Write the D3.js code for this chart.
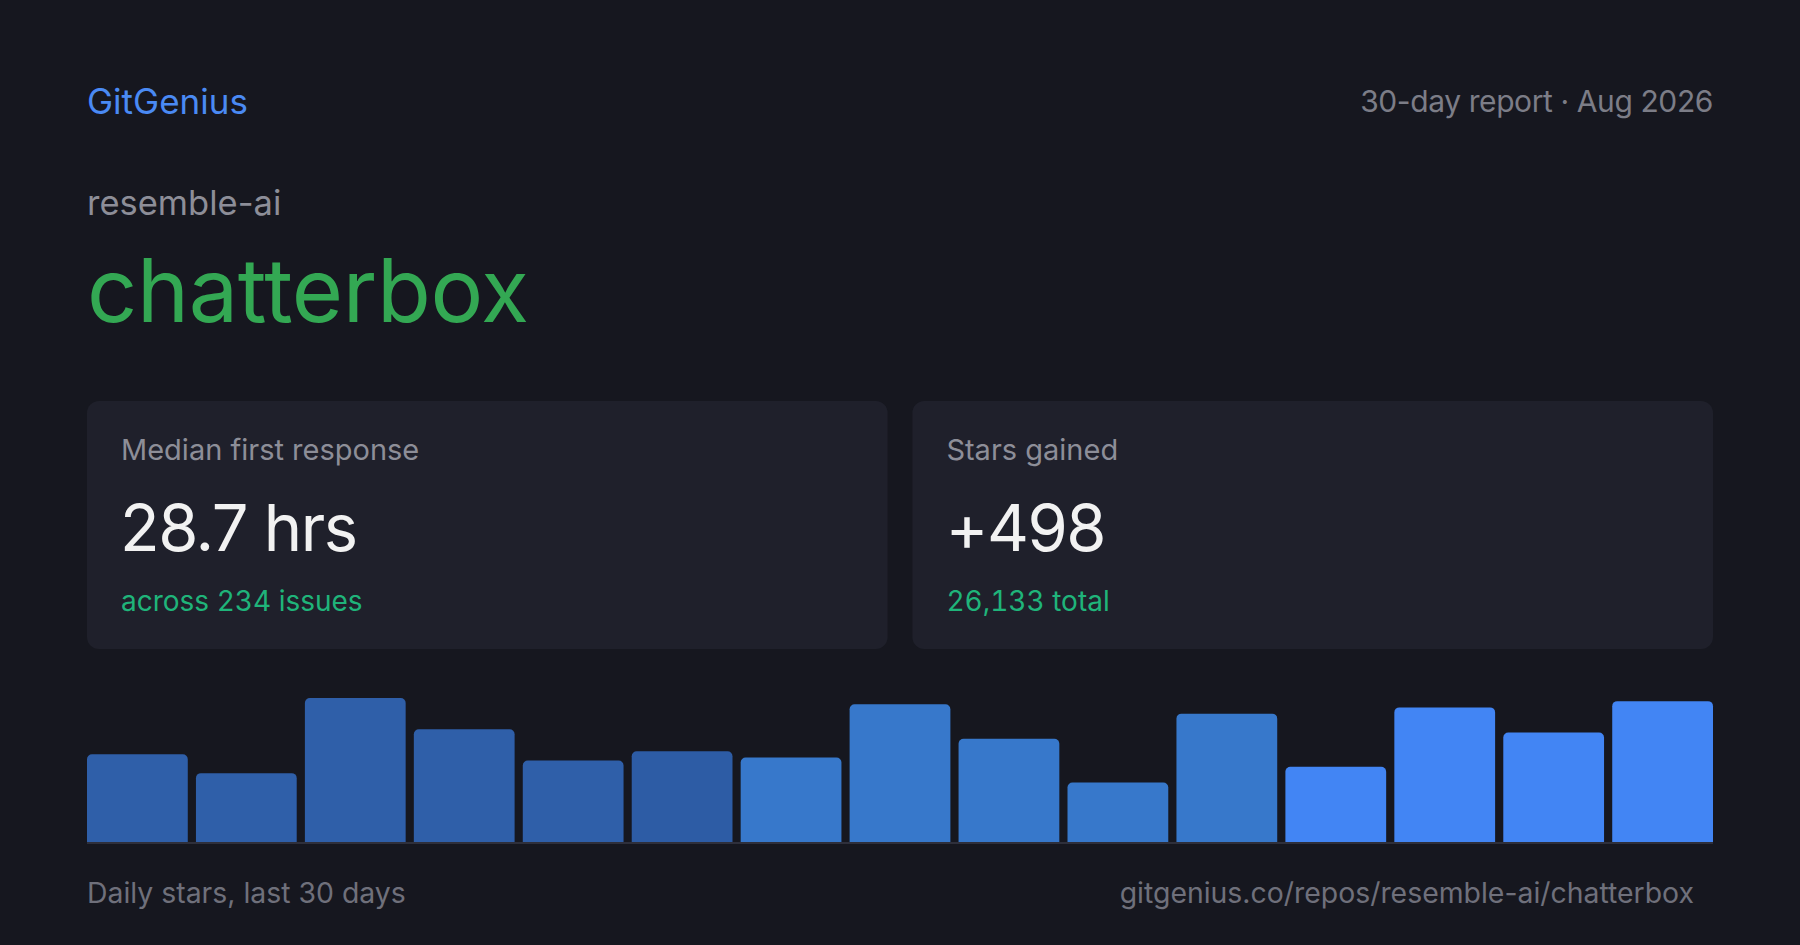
<!DOCTYPE html>
<html>
<head>
<meta charset="utf-8">
<script src="https://cdn.jsdelivr.net/npm/d3@7/dist/d3.min.js"></script>
<style>
  html, body { margin: 0; padding: 0; background: #16171f; }
  svg { display: block; }
  text { font-family: Inter, "Noto Sans", sans-serif; }
  .sub { font-feature-settings: "tnum" 1; }
</style>
</head>
<body>
<svg id="chart" width="1800" height="945"></svg>
<script>
// ---- data ----
const brand = "GitGenius";
const reportLabel = "30-day report · Aug 2026";
const owner = "resemble-ai";
const repo = "chatterbox";
const cardLabels = ["Median first response", "Stars gained"];
const cardValues = ["28.7 hrs", "+498"];
const cardSubs = ["across 234 issues", "26,133 total"];
const barDays = ["1","2","3","4","5","6","7","8","9","10","11","12","13","14","15"];
const barValues = [28, 22, 46, 36, 26, 29, 27, 44, 33, 19, 41, 24, 43, 35, 45];
const barColors = ["#2f5fa9","#2f5fa9","#2f5fa9","#2f5fa9","#2f5fa9","#2d5ca5",
                   "#3778cb","#3778cb","#3778cb","#3778cb","#3778cb",
                   "#4285f4","#4285f4","#4285f4","#4285f4"];
const footerLeft = "Daily stars, last 30 days";
const footerRight = "gitgenius.co/repos/resemble-ai/chatterbox";

// ---- layout ----
const W = 1800, H = 945;
const left = 87, right = 1713;
const svg = d3.select("#chart");
svg.append("rect").attr("width", W).attr("height", H).attr("fill", "#16171f");

svg.append("text").attr("x", left).attr("y", 114).attr("font-size", 35)
  .attr("fill", "#4a8af4").text(brand);
svg.append("text").attr("x", right).attr("y", 112).attr("font-size", 30)
  .attr("letter-spacing", -0.4)
  .attr("text-anchor", "end").attr("fill", "#7c7d87").text(reportLabel);
svg.append("text").attr("x", left).attr("y", 215).attr("font-size", 34.5)
  .attr("fill", "#8d8e98").text(owner);
svg.append("text").attr("x", left).attr("y", 322).attr("font-size", 88)
  .attr("letter-spacing", -0.3)
  .attr("fill", "#33a853").text(repo);

// cards
const cardScale = d3.scaleBand().domain(d3.range(cardLabels.length))
  .range([left, right]).paddingInner(0.03);
const cardTop = 401, cardH = 248;
const cards = svg.selectAll("g.card").data(cardLabels).join("g")
  .attr("class", "card")
  .attr("transform", (d, i) => `translate(${cardScale(i)},${cardTop})`);
cards.append("rect").attr("width", cardScale.bandwidth()).attr("height", cardH)
  .attr("rx", 12).attr("fill", "#1f202b");
cards.append("text").attr("x", 34).attr("y", 59).attr("font-size", 29)
  .attr("fill", "#8d8e98").text(d => d);
cards.append("text").attr("x", 33).attr("y", 150).attr("font-size", 65)
  .attr("letter-spacing", -1.5)
  .attr("fill", "#f2f2f2").text((d, i) => cardValues[i]);
cards.append("text").attr("class", "sub").attr("x", 34).attr("y", 210).attr("font-size", 28)
  .attr("fill", "#1fb47a").text((d, i) => cardSubs[i]);

// bars
const baseY = 842, topY = 698;
const x = d3.scaleBand().domain(barDays).range([left, right]).paddingInner(0.075);
const y = d3.scaleLinear().domain([0, d3.max(barValues)]).range([baseY, topY]);
const r = 5;
function topRounded(x0, y0, w, h) {
  const p = d3.path();
  p.moveTo(x0, y0 + h);
  p.lineTo(x0, y0 + r);
  p.arcTo(x0, y0, x0 + r, y0, r);
  p.lineTo(x0 + w - r, y0);
  p.arcTo(x0 + w, y0, x0 + w, y0 + r, r);
  p.lineTo(x0 + w, y0 + h);
  p.closePath();
  return p.toString();
}
svg.append("g").selectAll("path").data(barValues).join("path")
  .attr("d", (v, i) => topRounded(x(barDays[i]), y(v), x.bandwidth(), baseY - y(v)))
  .attr("fill", (v, i) => barColors[i]);
svg.append("line").attr("x1", left).attr("x2", right)
  .attr("y1", baseY + 1).attr("y2", baseY + 1)
  .attr("stroke", "#2e2f3b").attr("stroke-width", 2);

svg.append("text").attr("x", left).attr("y", 903).attr("font-size", 28.4)
  .attr("fill", "#6f707b").text(footerLeft);
svg.append("text").attr("x", 1694).attr("y", 903).attr("font-size", 28.4)
  .attr("text-anchor", "end").attr("fill", "#6f707b").text(footerRight);
</script>
</body>
</html>
